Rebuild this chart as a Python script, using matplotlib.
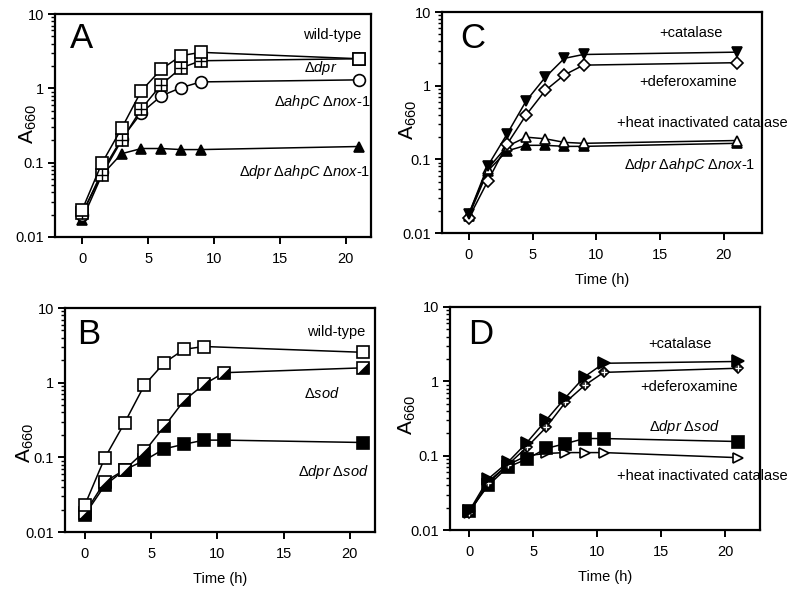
import matplotlib
matplotlib.use("Agg")
import matplotlib.pyplot as plt
from matplotlib.ticker import LogLocator, NullFormatter, FixedLocator, FixedFormatter

plt.rcParams['font.family'] = ['Liberation Sans', 'DejaVu Sans']
plt.rcParams['mathtext.fontset'] = 'custom'
plt.rcParams['mathtext.rm'] = 'Liberation Sans'
plt.rcParams['mathtext.it'] = 'Liberation Sans:italic'
plt.rcParams['mathtext.bf'] = 'Liberation Sans:bold'

# ---------------- data ----------------
# Panel A
tA = [0, 1.5, 3, 4.5, 6, 7.5, 9, 21]
A_wt = [0.023, 0.098, 0.29, 0.93, 1.8, 2.75, 3.05, 2.5]
A_dpr = [0.021, 0.069, 0.20, 0.53, 1.12, 1.88, 2.35, 2.5]
A_ahpc_nox = [0.020, 0.075, 0.21, 0.47, 0.79, 1.02, 1.22, 1.3]
A_triple = [0.017, 0.068, 0.132, 0.155, 0.155, 0.15, 0.15, 0.165]

# Panel B
tB_wt = [0, 1.5, 3, 4.5, 6, 7.5, 9, 21]
B_wt = [0.023, 0.098, 0.29, 0.93, 1.85, 2.8, 3.05, 2.55]
tB = [0, 1.5, 3, 4.5, 6, 7.5, 9, 10.5, 21]
B_sod = [0.018, 0.047, 0.068, 0.12, 0.26, 0.58, 0.95, 1.36, 1.58]
B_dpr_sod = [0.017, 0.042, 0.068, 0.091, 0.13, 0.15, 0.17, 0.17, 0.158]

# Panel C
tC = [0, 1.5, 3, 4.5, 6, 7.5, 9, 21]
C_cat = [0.018, 0.082, 0.22, 0.62, 1.3, 2.35, 2.65, 2.85]
C_defer = [0.016, 0.051, 0.16, 0.40, 0.86, 1.4, 1.9, 2.05]
C_heat = [0.018, 0.075, 0.15, 0.20, 0.19, 0.17, 0.165, 0.18]
C_triple = [0.017, 0.07, 0.13, 0.155, 0.155, 0.15, 0.15, 0.165]

# Panel D
tD = [0, 1.5, 3, 4.5, 6, 7.5, 9, 10.5, 21]
D_cat = [0.018, 0.049, 0.081, 0.15, 0.30, 0.60, 1.15, 1.75, 1.85]
D_defer = [0.017, 0.043, 0.075, 0.13, 0.24, 0.52, 0.88, 1.32, 1.5]
D_dpr_sod = [0.018, 0.040, 0.070, 0.090, 0.125, 0.145, 0.17, 0.17, 0.155]
D_heat = [0.017, 0.045, 0.075, 0.10, 0.107, 0.11, 0.11, 0.11, 0.094]

xticks = [0, 5, 10, 15, 20]
yticks = [0.01, 0.1, 1, 10]
yticklabels = ['0.01', '0.1', '1', '10']

W, H = 790, 589
fig = plt.figure(figsize=(W / 100, H / 100), dpi=100)


def make_axes(left, top, right, bottom, xlim):
    ax = fig.add_axes([left / W, 1 - bottom / H, (right - left) / W, (bottom - top) / H])
    ax.set_yscale('log')
    ax.set_ylim(0.01, 10)
    ax.set_xlim(*xlim)
    for s in ['top', 'right', 'left', 'bottom']:
        ax.spines[s].set_linewidth(1.6)
    ax.yaxis.set_major_locator(FixedLocator(yticks))
    ax.yaxis.set_major_formatter(FixedFormatter(yticklabels))
    ax.yaxis.set_minor_locator(LogLocator(base=10, subs=range(2, 10)))
    ax.yaxis.set_minor_formatter(NullFormatter())
    ax.set_xticks(xticks)
    ax.tick_params(which='major', direction='out', length=5, width=1.4,
                   labelsize=10.5, top=False, right=False, pad=3)
    ax.tick_params(which='minor', direction='out', length=3, width=1.0, top=False, right=False)
    ax.tick_params(axis='x', which='minor', bottom=False)
    ax.tick_params(axis='x', which='major', pad=6)
    return ax


def figtext(x, y, s, **kw):
    kw.setdefault('fontsize', 10.5)
    kw.setdefault('ha', 'center')
    kw.setdefault('va', 'center')
    fig.text(x / W, 1 - y / H, s, **kw)


LW = 1.1
MEW = 1.2

def line(ax, x, y, marker, ms, mfc, z=3, **kw):
    ax.plot(x, y, color='black', lw=LW, marker=marker, ms=ms, mfc=mfc, mec='black',
            mew=MEW, zorder=z, clip_on=False, **kw)

halfsq = [(1, -1), (1, 1), (-1, -1)]

# ---------------- Panel A ----------------
axA = make_axes(55, 14, 371, 237, (-2.05, 21.9))
line(axA, tA, A_triple, '^', 7.5, 'black', z=3)
line(axA, tA, A_ahpc_nox, 'o', 8.5, 'white', z=4)
line(axA, tA, A_dpr, 's', 8, 'white', z=5)
axA.plot(tA, A_dpr, ls='none', marker='+', ms=8, mew=1.0, color='black', zorder=5.5, clip_on=False)
line(axA, tA, A_wt, 's', 8, 'white', z=6)

# ---------------- Panel B ----------------
axB = make_axes(65, 308, 375, 532, (-1.5, 21.9))
line(axB, tB, B_dpr_sod, 's', 8, 'black', z=3)
line(axB, tB, B_sod, 's', 8, 'white', z=4)
axB.plot(tB, B_sod, ls='none', marker=halfsq, ms=8, mfc='black', mec='black', mew=0.5,
         zorder=4.5, clip_on=False)
line(axB, tB_wt, B_wt, 's', 8, 'white', z=5)
axB.set_xlabel('Time (h)', fontsize=10.5, labelpad=8)

# ---------------- Panel C ----------------
axC = make_axes(442, 12, 762, 233, (-2.1, 23.0))
line(axC, tC, C_triple, '^', 7.5, 'black', z=3)
line(axC, tC, C_heat, '^', 7.5, 'white', z=4)
line(axC, tC, C_defer, 'D', 6, 'white', z=5)
line(axC, tC, C_cat, 'v', 7.5, 'black', z=6)
axC.set_xlabel('Time (h)', fontsize=10.5, labelpad=8)

# ---------------- Panel D ----------------
axD = make_axes(450, 307, 760, 530, (-1.5, 22.7))
line(axD, tD, D_heat, '>', 7.5, 'white', z=3)
line(axD, tD, D_dpr_sod, 's', 8.5, 'black', z=4)
line(axD, tD, D_defer, 'D', 5.5, '0.25', z=5)
axD.plot(tD, D_defer, ls='none', marker='+', ms=4, mew=0.8, color='white', zorder=5.5, clip_on=False)
line(axD, tD, D_cat, '>', 8, 'black', z=6)
axD.set_xlabel('Time (h)', fontsize=10.5, labelpad=8)

# y labels
ylab = r'A$_{\mathregular{660}}$'
for (x, y) in [(28, 124), (408, 120), (25, 443), (407, 415)]:
    figtext(x, y, ylab, fontsize=15, rotation=90)

# panel letters
for (x, y, s) in [(81, 39, 'A'), (473, 39, 'C'), (89, 335, 'B'), (481, 334, 'D')]:
    figtext(x, y, s, fontsize=25)

# series annotations
D = r'\mathrm{\Delta}'
figtext(332, 35, 'wild-type')
figtext(321, 68, rf'${D}\mathit{{dpr}}$')
figtext(322, 102, rf'${D}\mathit{{ahpC}}\ {D}\mathit{{nox‐1}}$')
figtext(305, 172, rf'${D}\mathit{{dpr}}\ {D}\mathit{{ahpC}}\ {D}\mathit{{nox‐1}}$')

figtext(336, 332, 'wild-type')
figtext(322, 394, rf'${D}\mathit{{sod}}$')
figtext(333, 472, rf'${D}\mathit{{dpr}}\ {D}\mathit{{sod}}$')

figtext(691, 33, '+catalase')
figtext(688, 82, '+deferoxamine')
figtext(702, 123, '+heat inactivated catalase')
figtext(690, 165, rf'${D}\mathit{{dpr}}\ {D}\mathit{{ahpC}}\ {D}\mathit{{nox‐1}}$')

figtext(680, 344, '+catalase')
figtext(689, 387, '+deferoxamine')
figtext(684, 427, rf'${D}\mathit{{dpr}}\ {D}\mathit{{sod}}$')
figtext(702, 476, '+heat inactivated catalase')

fig.savefig('out.png', dpi=100)
